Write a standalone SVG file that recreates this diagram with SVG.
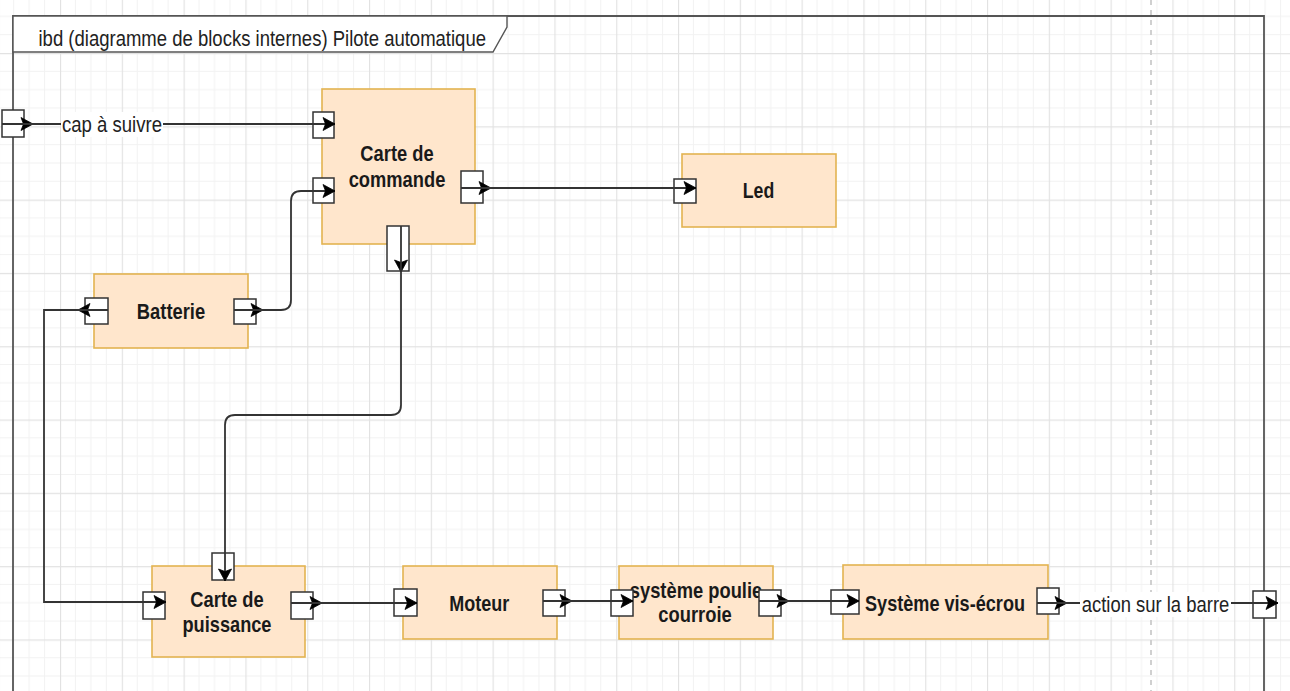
<svg xmlns="http://www.w3.org/2000/svg" xmlns:xlink="http://www.w3.org/1999/xlink" width="1290" height="691" viewBox="0 0 1290 691">
<style>
.blk{fill:#ffe6cc;stroke:#e3b350;stroke-width:1.6}
.port{fill:#ffffff;stroke:#333333;stroke-width:1.5}
.lbl{font-family:"Liberation Sans",Arial,sans-serif;font-size:21.5px;font-weight:bold;fill:#1a1a1a;text-anchor:middle}
.txt{font-family:"Liberation Sans",Arial,sans-serif;font-size:21.5px;fill:#222222}
.con{fill:none;stroke:#333333;stroke-width:1.8}
.bg{fill:#ffffff}
</style>
<defs>
<pattern id="grid" patternUnits="userSpaceOnUse" x="-1.8" y="-20.3" width="61.8" height="73.3">
<path d="M15.45,0V73.3M30.9,0V73.3M46.35,0V73.3M0,18.33H61.8M0,36.65H61.8M0,54.98H61.8" stroke="#f2f2f2" stroke-width="1" fill="none"/>
<path d="M0.5,0V73.3M0,0.5H61.8" stroke="#e2e2e2" stroke-width="1.3" fill="none"/>
</pattern>
<marker id="arr" markerUnits="userSpaceOnUse" markerWidth="16" markerHeight="16" refX="13" refY="7" orient="auto">
<path d="M1,0.5 L13,7 L1,13.5 L3.5,7 z" fill="#000000" stroke="#000000" stroke-width="0.8" stroke-linejoin="round"/>
</marker>
<path id="ah" d="M0,0 L-12,-6.5 L-9.5,0 L-12,6.5 z" fill="#000000" stroke="#000000" stroke-width="0.8" stroke-linejoin="round"/>
</defs>
<rect width="1290" height="691" fill="#ffffff"/>
<rect width="1290" height="691" fill="url(#grid)"/>
<line x1="1151" y1="0" x2="1151" y2="691" stroke="#d0d0d0" stroke-width="2" stroke-dasharray="5,5"/>

<g id="frame">
<path d="M13,691 V16 H1264 V691" fill="none" stroke="#555555" stroke-width="1.8"/>
<path d="M13,16 H507 V27 L493,52 H13 z" fill="#ffffff" stroke="#555555" stroke-width="1.4"/>
<text class="txt" x="38.5" y="45.5" textLength="447.5" lengthAdjust="spacingAndGlyphs">ibd (diagramme de blocks internes) Pilote automatique</text>
<rect class="port" x="2" y="110" width="22" height="27"/>
<use xlink:href="#ah" transform="translate(33,124)"/>
<rect class="port" x="1253" y="591" width="23" height="27"/>
</g>

<g id="carte-commande">
<rect class="blk" x="322" y="89" width="153" height="155"/>
<text class="lbl" x="397" y="161" textLength="73.3" lengthAdjust="spacingAndGlyphs">Carte de</text>
<text class="lbl" x="397" y="186.7" textLength="96.7" lengthAdjust="spacingAndGlyphs">commande</text>
<rect class="port" x="313" y="112" width="21" height="26"/>
<rect class="port" x="313" y="178" width="21" height="25"/>
<rect class="port" x="461" y="171" width="22" height="32"/>
<use xlink:href="#ah" transform="translate(491,188)"/>
<rect class="port" x="387" y="226" width="22" height="45"/>
<use xlink:href="#ah" transform="translate(401,272) rotate(90)"/>
</g>

<g id="led">
<rect class="blk" x="682" y="154" width="154" height="73"/>
<text class="lbl" x="758.5" y="198" textLength="31.5" lengthAdjust="spacingAndGlyphs">Led</text>
<rect class="port" x="674" y="179" width="22" height="24"/>
</g>

<g id="batterie">
<rect class="blk" x="94" y="274" width="154" height="74"/>
<text class="lbl" x="171" y="319" textLength="68.3" lengthAdjust="spacingAndGlyphs">Batterie</text>
<rect class="port" x="85" y="298" width="23" height="26"/>
<use xlink:href="#ah" transform="translate(78,310) rotate(180)"/>
<rect class="port" x="234" y="299" width="22" height="25"/>
<use xlink:href="#ah" transform="translate(263,310)"/>
</g>

<g id="carte-puissance">
<rect class="blk" x="152" y="566" width="153" height="91"/>
<text class="lbl" x="227" y="606.5" textLength="73.3" lengthAdjust="spacingAndGlyphs">Carte de</text>
<text class="lbl" x="227" y="631.7" textLength="89" lengthAdjust="spacingAndGlyphs">puissance</text>
<rect class="port" x="212" y="553" width="22" height="27"/>
<rect class="port" x="143" y="592" width="22" height="27"/>
<rect class="port" x="291" y="592" width="22" height="27"/>
<use xlink:href="#ah" transform="translate(322,603)"/>
</g>

<g id="moteur">
<rect class="blk" x="403" y="566" width="154" height="73"/>
<text class="lbl" x="479.3" y="610.7" textLength="60" lengthAdjust="spacingAndGlyphs">Moteur</text>
<rect class="port" x="394" y="589" width="23" height="27"/>
<rect class="port" x="543" y="590" width="22" height="26"/>
<use xlink:href="#ah" transform="translate(572,601)"/>
</g>

<g id="poulie-courroie">
<rect class="blk" x="619" y="566" width="154" height="73"/>
<text class="lbl" x="696" y="598" textLength="132.5" lengthAdjust="spacingAndGlyphs">système poulie</text>
<text class="lbl" x="695" y="621.7" textLength="73.4" lengthAdjust="spacingAndGlyphs">courroie</text>
<rect class="port" x="611" y="590" width="22" height="26"/>
<rect class="port" x="759" y="590" width="22" height="26"/>
<use xlink:href="#ah" transform="translate(789,601)"/>
</g>

<g id="vis-ecrou">
<rect class="blk" x="843" y="565" width="205" height="74"/>
<text class="lbl" x="945" y="610.5" textLength="160" lengthAdjust="spacingAndGlyphs">Système vis-écrou</text>
<rect class="port" x="831" y="590" width="28" height="24"/>
<rect class="port" x="1037" y="588" width="22" height="26"/>
<use xlink:href="#ah" transform="translate(1067,603)"/>
</g>

<g id="connectors">
<path class="con" d="M2,124 H335" marker-end="url(#arr)"/>
<rect class="bg" x="61" y="112" width="102" height="25"/>
<text class="txt" x="62" y="131.5" textLength="100" lengthAdjust="spacingAndGlyphs">cap à suivre</text>
<path class="con" d="M234,310 H281 Q291,310 291,300 V201 Q291,191 301,191 H335" marker-end="url(#arr)"/>
<path class="con" d="M461,188 H696" marker-end="url(#arr)"/>
<path class="con" d="M401,226 V405 Q401,415 391,415 H235 Q225,415 225,425 V581" marker-end="url(#arr)"/>
<path class="con" d="M108,310 H44 V602 H166" marker-end="url(#arr)"/>
<path class="con" d="M291,603 H417" marker-end="url(#arr)"/>
<path class="con" d="M543,601 H633" marker-end="url(#arr)"/>
<path class="con" d="M759,601 H859" marker-end="url(#arr)"/>
<path class="con" d="M1037,603 H1278" marker-end="url(#arr)"/>
<rect class="bg" x="1080" y="592" width="151" height="25"/>
<text class="txt" x="1081.7" y="611.5" textLength="147.6" lengthAdjust="spacingAndGlyphs">action sur la barre</text>
</g>
</svg>
